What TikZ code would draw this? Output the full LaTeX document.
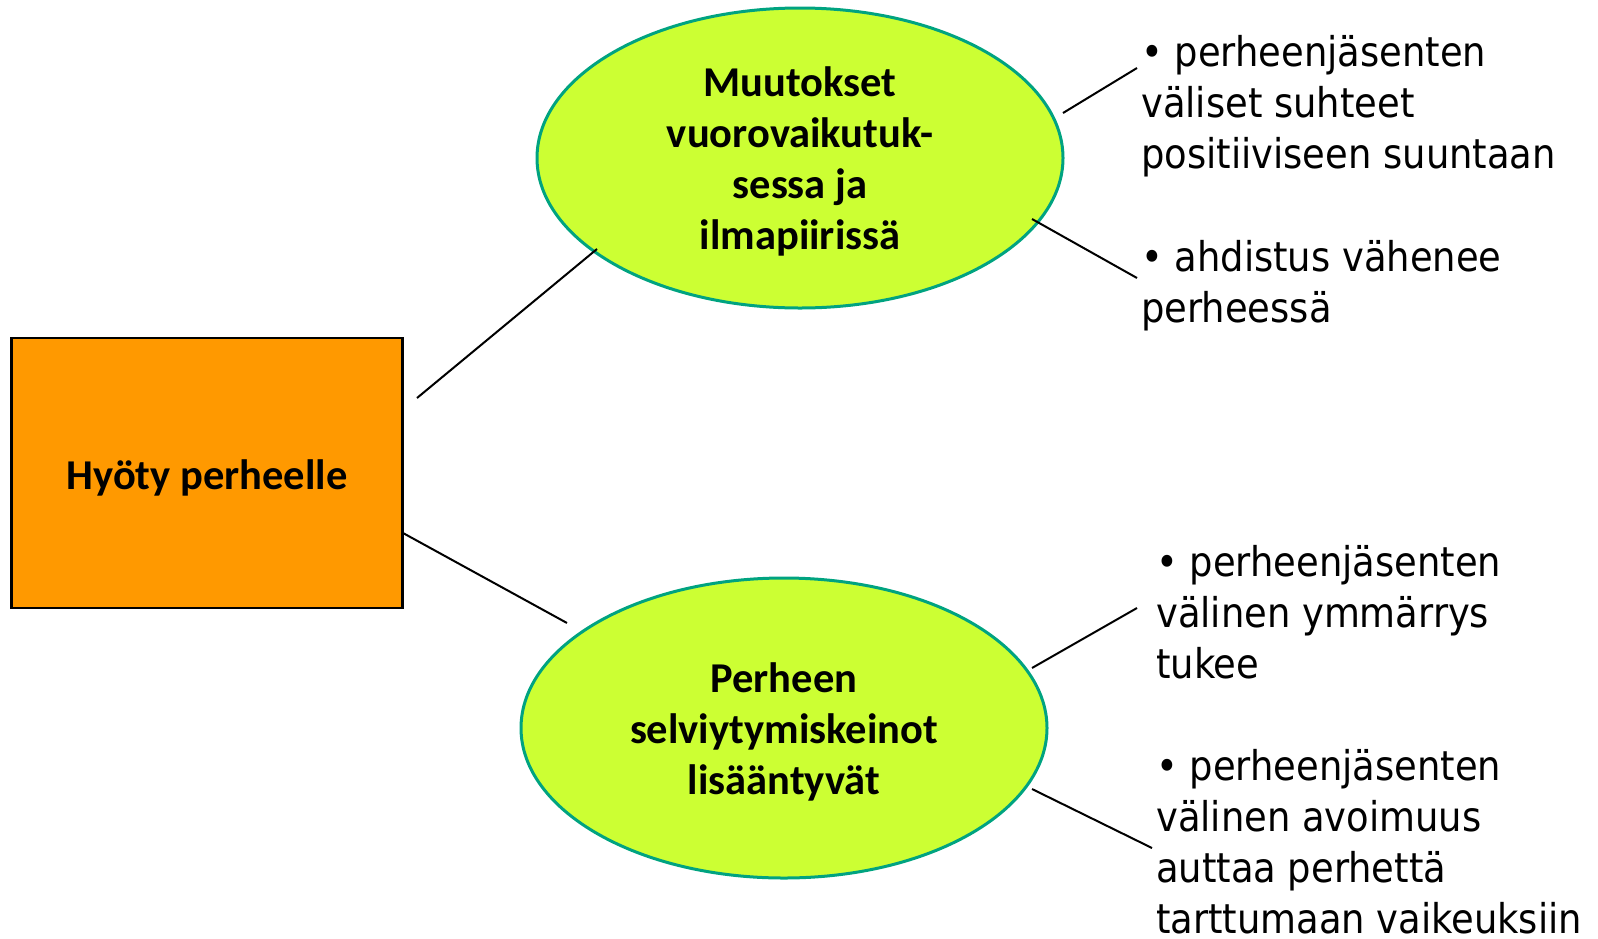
\documentclass[tikz,border=0pt]{standalone}
\usepackage{fontspec}
\setmainfont{Carlito}
\newfontfamily\pointfont{DejaVu Sans Condensed}
\usetikzlibrary{shapes.geometric}
\definecolor{huborange}{RGB}{255,153,0}
\definecolor{topiclime}{RGB}{204,255,51}
\definecolor{topicedge}{RGB}{0,163,128}
\newcommand{\topstrut}{\rule{0pt}{37.5pt}}
\begin{document}
\begin{tikzpicture}[x=1pt,y=-1pt,
  hub/.style={draw=black,line width=2.75pt,fill=huborange,minimum width=391pt,minimum height=270pt,inner sep=0pt,font=\fontsize{42.5}{50}\selectfont\bfseries},
  topic/.style={ellipse,draw=topicedge,line width=3pt,fill=topiclime,minimum width=526pt,minimum height=300pt,inner sep=0pt,align=center,font=\fontsize{42.5}{51}\selectfont\bfseries},
  point/.style={anchor=base west,inner sep=0pt,align=left,font=\pointfont\fontsize{41}{51}\selectfont},
  link/.style={draw=black,line width=2pt}]
\useasboundingbox (0,0) rectangle (1598,938);
\node[hub] (hub) at (207,473) {\raisebox{-5pt}[\height][\depth]{Hyöty perheelle}};
\node[topic] (t1) at (800,158) {\topstrut Muutokset\\vuorovaikutuk-\\sessa ja\\ilmapiirissä};
\node[topic] (t2) at (784,728) {\topstrut Perheen\\selviytymiskeinot\\lisääntyvät};
\node[point] (p1) at (1141,168) {• perheenjäsenten\\väliset suhteet\\positiiviseen suuntaan};
\node[point] (p2) at (1141,322) {• ahdistus vähenee\\perheessä};
\node[point] (p3) at (1156,678) {• perheenjäsenten\\välinen ymmärrys\\tukee};
\node[point] (p4) at (1156,933) {• perheenjäsenten\\välinen avoimuus\\auttaa perhettä\\tarttumaan vaikeuksiin};
\coordinate (hubA) at (417,398);
\coordinate (hubB) at (403,533);
\coordinate (t1in) at (597,249);
\coordinate (t2in) at (567,623);
\coordinate (t1a) at (1063,113);
\coordinate (t1b) at (1032,219);
\coordinate (t2a) at (1032,668);
\coordinate (t2b) at (1032,789);
\coordinate (p1end) at (1137,68);
\coordinate (p2end) at (1137,278);
\coordinate (p3end) at (1137,608);
\coordinate (p4end) at (1152,848);
\draw[link] (hubA) -- (t1in);
\draw[link] (hubB) -- (t2in);
\draw[link] (t1a) -- (p1end);
\draw[link] (t1b) -- (p2end);
\draw[link] (t2a) -- (p3end);
\draw[link] (t2b) -- (p4end);
\end{tikzpicture}
\end{document}
